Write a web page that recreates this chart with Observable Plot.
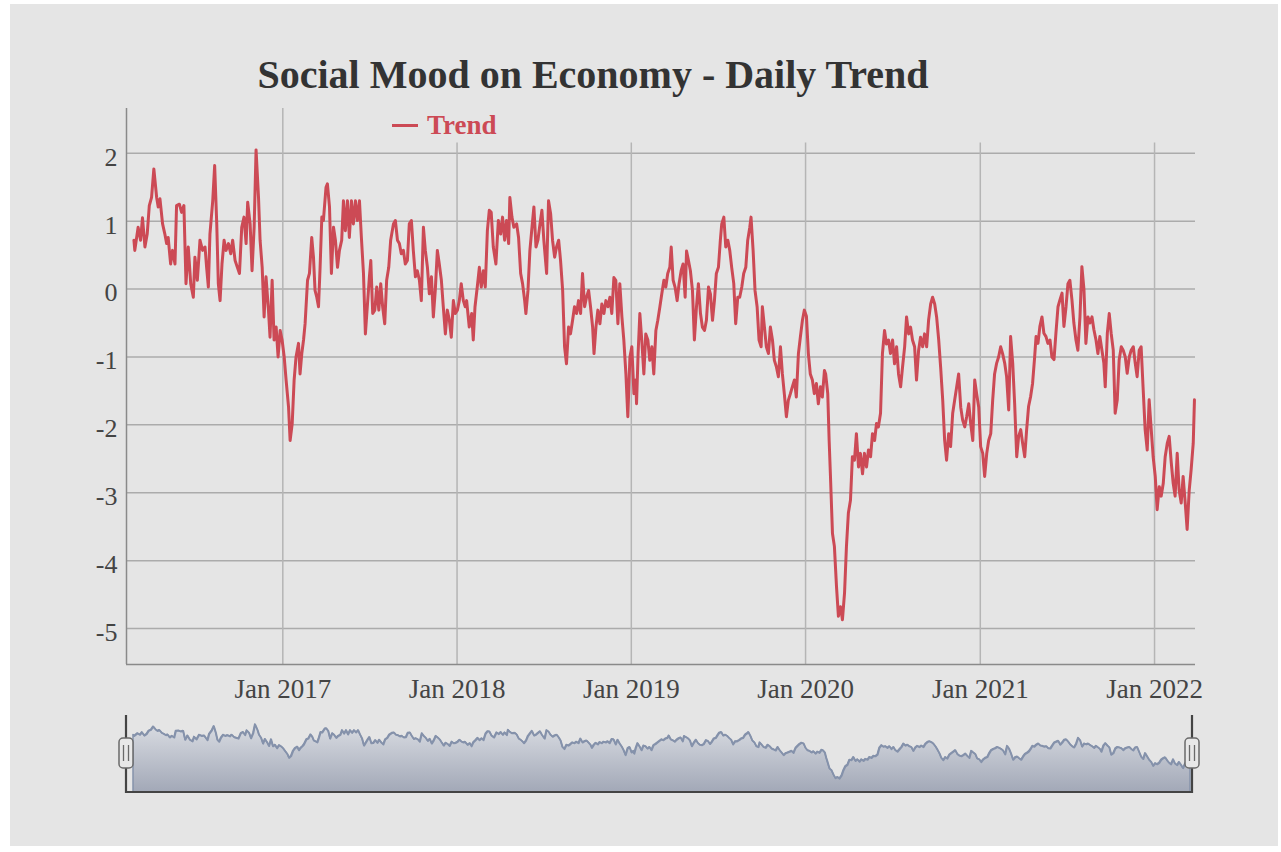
<!DOCTYPE html>
<html><head><meta charset="utf-8">
<script src="https://cdn.jsdelivr.net/npm/d3@7"></script>
<script src="https://cdn.jsdelivr.net/npm/@observablehq/plot@0.6"></script>
<style>
html,body{margin:0;padding:0;background:#fff;width:1281px;height:852px;overflow:hidden;}
#panel{position:absolute;left:10px;top:4px;width:1268px;height:842px;background:#e5e5e5;}
.abs{position:absolute;}
#title{left:0;top:55px;width:1186px;text-align:center;font:bold 40px "Liberation Serif",serif;color:#333;line-height:39px;white-space:nowrap;}
#legline{left:392px;top:124px;width:26px;height:3px;background:#cc4a55;}
#legtext{left:427px;top:112px;font:bold 27px "Liberation Serif",serif;color:#cc4a55;line-height:26px;white-space:nowrap;}
</style></head><body>
<div id="panel"></div>
<div id="title" class="abs">Social Mood on Economy - Daily Trend</div>
<div id="legline" class="abs"></div>
<div id="legtext" class="abs">Trend</div>
<div id="main" class="abs" style="left:40px;top:100px"></div>
<div id="nav" class="abs" style="left:100px;top:705px"></div>
<script>
// Time as decimal years, mood values
const t2016 = [2016.148,2016.153,2016.172,2016.186,2016.197,2016.211,2016.224,2016.236,2016.249,2016.262,2016.278,2016.287,2016.297,2016.312,2016.325,2016.335,2016.344,2016.358,2016.369,2016.383,2016.392,2016.408,2016.421,2016.434,2016.446,2016.459,2016.473,2016.488,2016.497,2016.511,2016.526,2016.541,2016.555,2016.564,2016.574,2016.583,2016.599,2016.610,2016.622,2016.631,2016.641,2016.652,2016.664,2016.675,2016.689,2016.702,2016.713,2016.727,2016.740,2016.752,2016.765,2016.778,2016.790,2016.799,2016.813,2016.824,2016.836,2016.847,2016.861,2016.870,2016.882,2016.893,2016.904,2016.918,2016.927,2016.939,2016.950,2016.962,2016.973,2016.985,2016.996,2017.008,2017.019,2017.033,2017.042,2017.054,2017.065,2017.076];
const v2016 = [0.72,0.57,0.91,0.72,1.05,0.62,0.81,1.23,1.35,1.77,1.35,1.21,1.33,0.96,0.81,0.67,0.76,0.37,0.57,0.37,1.23,1.25,1.13,1.23,0.08,0.62,0.08,-0.12,0.47,0.13,0.72,0.57,0.62,0.32,0.03,0.81,1.30,1.82,0.96,0.08,-0.17,0.37,0.72,0.57,0.67,0.52,0.72,0.42,0.32,0.23,0.91,1.06,0.67,1.28,0.96,0.27,0.91,2.05,1.35,0.72,0.32,-0.41,0.18,-0.31,-0.71,0.13,-0.75,-0.56,-1.00,-0.61,-0.75,-1.00,-1.34,-1.74,-2.23,-1.98,-1.34,-1.00];

const t2017 = [2017.090,2017.099,2017.109,2017.119,2017.128,2017.142,2017.153,2017.166,2017.176,2017.185,2017.195,2017.205,2017.214,2017.224,2017.233,2017.248,2017.256,2017.268,2017.279,2017.291,2017.302,2017.314,2017.325,2017.338,2017.348,2017.359,2017.371,2017.382,2017.394,2017.405,2017.417,2017.428,2017.440,2017.451,2017.463,2017.474,2017.486,2017.497,2017.505,2017.516,2017.528,2017.539,2017.551,2017.562,2017.573,2017.585,2017.596,2017.608,2017.619,2017.635,2017.646,2017.658,2017.669,2017.680,2017.692,2017.703,2017.715,2017.726,2017.738,2017.749,2017.761,2017.772,2017.784,2017.795,2017.807,2017.818,2017.830,2017.841,2017.853,2017.864,2017.875,2017.887,2017.898,2017.910,2017.921,2017.933,2017.944,2017.956,2017.967,2017.979,2017.990,2018.002,2018.013,2018.024,2018.036,2018.047];
const v2017 = [-0.80,-1.25,-0.95,-0.75,-0.51,0.13,0.23,0.76,0.47,-0.02,-0.12,-0.26,0.32,1.06,1.01,1.50,1.55,1.21,0.23,0.91,0.72,0.32,0.57,0.72,1.30,0.86,1.30,0.76,1.30,0.96,1.30,1.01,1.30,0.76,0.23,-0.66,-0.22,0.18,0.42,-0.36,-0.31,0.03,-0.31,0.08,-0.26,-0.51,0.13,0.32,0.72,0.96,1.01,0.72,0.67,0.52,0.57,0.37,0.42,0.96,1.01,0.57,0.18,0.27,0.13,-0.17,0.91,0.57,0.32,-0.07,0.18,-0.41,-0.02,0.57,0.37,0.13,-0.26,-0.66,-0.31,-0.46,-0.71,-0.17,-0.36,-0.31,-0.17,0.08,-0.17,-0.26];

const t2018 = [2018.055,2018.070,2018.084,2018.093,2018.103,2018.116,2018.128,2018.139,2018.151,2018.162,2018.174,2018.185,2018.196,2018.208,2018.223,2018.237,2018.250,2018.261,2018.273,2018.284,2018.296,2018.303,2018.315,2018.326,2018.342,2018.353,2018.365,2018.376,2018.388,2018.395,2018.407,2018.418,2018.430,2018.441,2018.453,2018.464,2018.476,2018.487,2018.498,2018.514,2018.525,2018.537,2018.548,2018.560,2018.571,2018.583,2018.594,2018.606,2018.617,2018.628,2018.640,2018.651,2018.663,2018.674,2018.686,2018.697,2018.709,2018.720,2018.732,2018.743,2018.755,2018.766,2018.778,2018.786,2018.797,2018.808,2018.820,2018.831,2018.843,2018.854,2018.866,2018.877,2018.888,2018.900,2018.911,2018.923,2018.934,2018.946,2018.957,2018.969,2018.980,2018.992,2019.003,2019.015,2019.026];
const v2018 = [-0.17,-0.56,-0.36,-0.75,-0.26,0.03,0.32,0.03,0.27,0.03,0.86,1.16,1.13,0.62,0.37,1.01,0.81,1.06,0.72,1.01,0.67,1.35,1.06,0.91,0.96,0.76,0.23,0.08,-0.17,-0.36,-0.02,0.57,0.91,1.21,0.62,0.72,0.96,1.16,0.72,0.23,1.30,1.11,0.72,0.47,0.62,0.72,0.42,-0.02,-0.85,-1.10,-0.56,-0.66,-0.46,-0.26,-0.36,-0.17,-0.36,0.23,-0.26,-0.12,-0.02,-0.26,-0.56,-0.95,-0.56,-0.31,-0.51,-0.22,-0.36,-0.17,-0.26,-0.12,-0.36,0.17,0.13,-0.51,0.08,-0.41,-0.75,-1.25,-1.88,-1.00,-0.85,-1.54,-1.34];

const t2019 = [2019.030,2019.039,2019.049,2019.060,2019.072,2019.083,2019.095,2019.106,2019.118,2019.129,2019.141,2019.152,2019.164,2019.175,2019.187,2019.198,2019.209,2019.221,2019.229,2019.240,2019.251,2019.263,2019.274,2019.286,2019.297,2019.309,2019.317,2019.328,2019.339,2019.351,2019.362,2019.374,2019.385,2019.397,2019.408,2019.420,2019.431,2019.443,2019.454,2019.466,2019.477,2019.488,2019.500,2019.511,2019.519,2019.531,2019.542,2019.554,2019.565,2019.576,2019.588,2019.599,2019.611,2019.622,2019.634,2019.645,2019.657,2019.668,2019.680,2019.687,2019.699,2019.710,2019.722,2019.733,2019.745,2019.752,2019.764,2019.775,2019.787,2019.798,2019.810,2019.821,2019.833,2019.844,2019.856,2019.867,2019.878,2019.890,2019.901,2019.913,2019.924,2019.936,2019.947,2019.959,2019.970,2019.982,2019.993];
const v2019 = [-1.69,-0.95,-0.36,-0.75,-1.25,-0.66,-0.75,-1.05,-0.85,-1.25,-0.61,-0.46,-0.26,-0.07,0.13,0.03,0.23,0.32,0.62,0.13,0.03,-0.17,0.08,0.27,0.37,-0.12,0.56,0.42,0.27,-0.02,-0.75,-0.26,0.08,-0.36,-0.56,-0.61,-0.46,0.03,-0.07,-0.46,-0.17,0.23,0.32,0.72,0.96,1.06,0.62,0.72,0.57,0.32,0.08,-0.51,-0.12,-0.12,0.03,0.23,0.32,0.72,0.91,1.06,0.57,-0.02,-0.26,-0.75,-0.85,-0.26,-0.56,-0.85,-0.95,-0.56,-0.75,-1.05,-1.15,-1.29,-0.85,-1.25,-1.54,-1.88,-1.64,-1.54,-1.44,-1.34,-1.59,-0.95,-0.71,-0.46,-0.31];

const t2020 = [2020.005,2020.016,2020.027,2020.039,2020.050,2020.062,2020.073,2020.085,2020.096,2020.108,2020.115,2020.127,2020.135,2020.142,2020.154,2020.165,2020.177,2020.188,2020.200,2020.211,2020.223,2020.234,2020.245,2020.257,2020.268,2020.280,2020.291,2020.303,2020.314,2020.326,2020.337,2020.349,2020.360,2020.372,2020.383,2020.395,2020.406,2020.417,2020.429,2020.440,2020.452,2020.463,2020.475,2020.486,2020.498,2020.509,2020.521,2020.532,2020.544,2020.555,2020.567,2020.578,2020.590,2020.601,2020.612,2020.624,2020.635,2020.647,2020.658,2020.670,2020.681,2020.693,2020.704,2020.716,2020.727,2020.739,2020.750,2020.762,2020.773,2020.785,2020.796,2020.807,2020.819,2020.830,2020.842,2020.853,2020.865,2020.876,2020.888,2020.899,2020.911,2020.922,2020.934,2020.945,2020.957,2020.968,2020.979,2020.991,2021.002,2021.014,2021.025,2021.037,2021.048,2021.060,2021.071,2021.082];
const v2020 = [-0.40,-0.95,-1.25,-1.34,-1.54,-1.39,-1.69,-1.44,-1.59,-1.20,-1.25,-1.54,-2.23,-2.72,-3.60,-3.79,-4.38,-4.82,-4.68,-4.87,-4.48,-3.79,-3.30,-3.11,-2.47,-2.52,-2.13,-2.62,-2.42,-2.72,-2.42,-2.62,-2.37,-2.47,-2.13,-2.23,-1.98,-2.03,-1.83,-0.95,-0.61,-0.81,-0.75,-0.95,-0.75,-1.10,-0.85,-1.25,-1.44,-1.15,-0.85,-0.41,-0.66,-0.56,-0.75,-0.85,-1.34,-0.90,-0.71,-0.85,-0.66,-0.85,-0.46,-0.22,-0.12,-0.22,-0.41,-0.75,-1.15,-1.64,-2.23,-2.52,-2.13,-2.32,-1.83,-1.64,-1.44,-1.25,-1.74,-1.93,-2.03,-1.88,-1.69,-1.98,-2.23,-1.34,-1.54,-1.74,-2.32,-2.42,-2.76,-2.42,-2.23,-2.13,-1.64,-1.25];

const t2021 = [2021.094,2021.105,2021.117,2021.128,2021.140,2021.151,2021.163,2021.174,2021.186,2021.197,2021.209,2021.220,2021.232,2021.243,2021.255,2021.266,2021.277,2021.289,2021.300,2021.312,2021.320,2021.331,2021.342,2021.354,2021.365,2021.377,2021.388,2021.400,2021.411,2021.423,2021.434,2021.446,2021.457,2021.469,2021.480,2021.492,2021.503,2021.514,2021.526,2021.537,2021.549,2021.560,2021.572,2021.583,2021.595,2021.606,2021.618,2021.629,2021.641,2021.652,2021.664,2021.675,2021.686,2021.698,2021.709,2021.717,2021.729,2021.740,2021.751,2021.763,2021.774,2021.786,2021.797,2021.809,2021.820,2021.832,2021.843,2021.855,2021.866,2021.878,2021.889,2021.900,2021.912,2021.923,2021.935,2021.946,2021.958,2021.969,2021.981,2021.992,2022.004,2022.015,2022.027,2022.038,2022.050,2022.061,2022.073,2022.084,2022.096,2022.107,2022.118,2022.130,2022.141,2022.153,2022.164,2022.176,2022.187,2022.199,2022.210,2022.222,2022.229];
const v2021 = [-1.09,-1.00,-0.85,-0.95,-1.09,-1.29,-1.78,-0.70,-1.09,-1.68,-2.47,-2.17,-2.07,-2.27,-2.47,-2.07,-1.73,-1.58,-1.39,-1.00,-0.70,-0.80,-0.55,-0.41,-0.65,-0.70,-0.80,-0.75,-1.00,-1.04,-0.65,-0.26,-0.16,-0.06,-0.55,-0.26,0.08,0.13,-0.16,-0.50,-0.75,-0.90,-0.41,0.33,-0.01,-0.80,-0.41,-0.50,-0.41,-0.60,-0.75,-0.95,-0.70,-0.90,-1.09,-1.44,-0.65,-0.36,-0.65,-0.90,-1.83,-1.63,-1.04,-0.85,-0.90,-1.00,-1.24,-1.00,-0.90,-0.85,-1.09,-1.29,-0.90,-0.85,-1.49,-2.07,-2.37,-1.63,-2.07,-2.47,-2.76,-3.25,-2.91,-3.05,-2.86,-2.47,-2.27,-2.17,-2.56,-2.86,-3.05,-2.42,-2.96,-3.15,-2.76,-3.15,-3.54,-2.96,-2.66,-2.27,-1.63];

const yTicks = [-5, -4, -3, -2, -1, 0, 1, 2];
const xTickYears = [2017, 2018, 2019, 2020, 2021, 2022];
const seriesName = "Trend";
const chartTitle = "Social Mood on Economy - Daily Trend";

// ---- build table
function toDate(t) {
  const y = Math.floor(t);
  const a = Date.UTC(y, 0, 1), b = Date.UTC(y + 1, 0, 1);
  return new Date(a + (t - y) * (b - a));
}
const segs = [[t2016, v2016], [t2017, v2017], [t2018, v2018], [t2019, v2019], [t2020, v2020], [t2021, v2021]];
const data = [];
for (const [ts, vs] of segs) {
  const n = Math.min(ts.length, vs.length);
  for (let i = 0; i < n; i++) data.push({date: toDate(ts[i]), value: vs[i]});
}
const xTicks = xTickYears.map(y => new Date(Date.UTC(y, 0, 1)));
const yMin = -5.53, yMax = 2.66, gridTop = 2.15;
const xDomain = [toDate(2016.1055), toDate(2022.235)];
const lineColor = "#cc4a55";

const main = Plot.plot({
  width: 1180, height: 620,
  marginLeft: 86, marginRight: 25, marginTop: 8, marginBottom: 56,
  style: {background: "transparent", fontFamily: "'Liberation Serif', serif", fontSize: "27px", color: "#444", overflow: "visible"},
  x: {type: "utc", domain: xDomain, label: null},
  y: {domain: [yMin, yMax], label: null},
  marks: [
    Plot.ruleY(yTicks, {stroke: "#ababab", strokeWidth: 1.5}),
    Plot.ruleX(xTicks, {y1: yMin, y2: d => d.getUTCFullYear() === xTickYears[0] ? yMax : gridTop, stroke: "#b5b5b5", strokeWidth: 1.5}),
    Plot.axisY(yTicks, {tickSize: 0, tickPadding: 9, dy: 4, fontSize: 26, label: null, tickFormat: d => (d < 0 ? "-" : "") + Math.abs(d)}),
    Plot.axisX(xTicks, {tickSize: 0, tickPadding: 14, fontSize: 27, label: null, tickFormat: d3.utcFormat("%b %Y")}),
    Plot.ruleX([xDomain[0]], {stroke: "#8a8a8a", strokeWidth: 1.5}),
    Plot.ruleY([yMin], {stroke: "#8a8a8a", strokeWidth: 1.5}),
    Plot.line(data, {x: "date", y: "value", stroke: lineColor, strokeWidth: 3, strokeLinejoin: "round"})
  ]
});
document.getElementById("main").appendChild(main);

// ---- navigator
const navY0 = -6.63, navY1 = 3.2;
const navW = 1120, navH = 100, navMT = 10, navMB = 13;
const nav = Plot.plot({
  width: navW, height: navH,
  marginLeft: 33, marginRight: 30, marginTop: navMT, marginBottom: navMB,
  style: {background: "transparent", overflow: "visible"},
  x: {type: "utc", domain: [data[0].date, data[data.length - 1].date], axis: null},
  y: {domain: [navY0, navY1], axis: null},
  marks: [
    Plot.areaY(data, {x: "date", y1: navY0, y2: "value", fill: "url(#navgrad)", stroke: "#8592ab", strokeWidth: 1.5}),
    Plot.line(data, {x: "date", y: "value", stroke: "#8592ab", strokeWidth: 1.8})
  ]
});
document.getElementById("nav").appendChild(nav);

const ns = d3.select(nav);
const defs = ns.insert("defs", ":first-child");
const g = defs.append("linearGradient").attr("id", "navgrad").attr("x1", 0).attr("x2", 0).attr("y1", 0).attr("y2", 1);
g.append("stop").attr("offset", "0%").attr("stop-color", "#d9dce2");
g.append("stop").attr("offset", "100%").attr("stop-color", "#a2a8b7");

const xs = nav.scale("x");
const xL = xs.apply(data[0].date) - 7;
const xR = xs.apply(data[data.length - 1].date) + 2;
const yT = navMT, yB = navH - navMB;
ns.append("path")
  .attr("d", `M${xL},${yT}V${yB}H${xR}V${yT}`)
  .attr("fill", "none").attr("stroke", "#444").attr("stroke-width", 2.2);
for (const cx of [xL, xR]) {
  const h = ns.append("g");
  h.append("rect").attr("x", cx - 7).attr("y", yT + 23).attr("width", 14).attr("height", 30)
    .attr("rx", 4).attr("fill", "#e8e8e8").attr("stroke", "#6a6a6a").attr("stroke-width", 1.5);
  for (const dx of [-2.5, 2.5]) {
    h.append("line").attr("x1", cx + dx).attr("x2", cx + dx).attr("y1", yT + 30).attr("y2", yT + 46)
      .attr("stroke", "#6a6a6a").attr("stroke-width", 1.3);
  }
}
</script>
</body></html>
